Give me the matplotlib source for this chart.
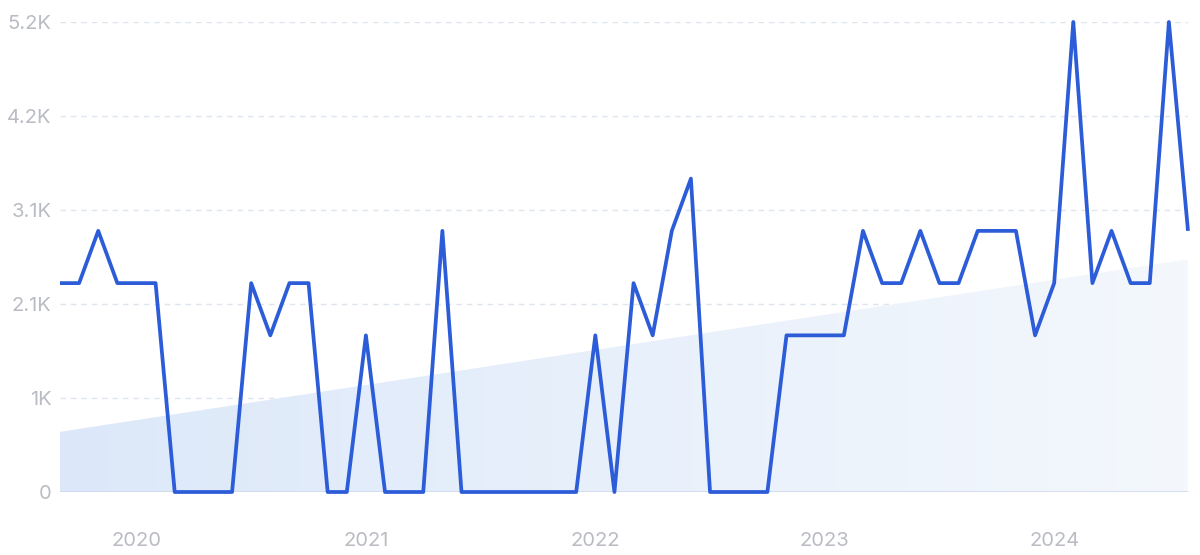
import matplotlib.pyplot as plt
import numpy as np
import pandas as pd
from matplotlib.colors import LinearSegmentedColormap

# monthly values, Sep 2019 .. Aug 2024
months = pd.date_range("2019-09-01", periods=60, freq="MS")
values = [
    2311, 2311, 2889, 2311, 2311, 2311, 0, 0, 0, 0,
    2311, 1733, 2311, 2311, 0, 0, 1733, 0, 0, 0,
    2889, 0, 0, 0, 0, 0, 0, 0, 1733, 0,
    2311, 1733, 2889, 3467, 0, 0, 0, 0, 1733, 1733,
    1733, 1733, 2889, 2311, 2311, 2889, 2311, 2311, 2889, 2889,
    2889, 1733, 2311, 5200, 2311, 2889, 2311, 2311, 5200, 2889,
]
# trend line (start / end)
trend_ends = [666, 2575]

y_ticks = [0, 1040, 2080, 3120, 4160, 5200]
y_labels = ["0", "1K", "2.1K", "3.1K", "4.2K", "5.2K"]
year_labels = ["2020", "2021", "2022", "2023", "2024"]

plt.rcParams['font.family'] = ['Inter', 'DejaVu Sans']

fig = plt.figure(figsize=(12, 5.55), dpi=100)
ax = fig.add_axes([0.05, 0.1135, 0.94, 0.8469])

x = np.arange(len(values))
x_end = len(values) - 1
ax.set_xlim(0, x_end)
ax.set_ylim(0, 5200)

# gradient-filled trend area
trend_x = [0, x_end]
poly = ax.fill_between(trend_x, trend_ends, 0, color="none", lw=0)
cmap = LinearSegmentedColormap.from_list("trend", ["#dce8f9", "#f4f8fd"])
grad = np.linspace(0, 1, 256).reshape(1, -1)
img = ax.imshow(grad, cmap=cmap, aspect="auto", extent=[0, x_end, 0, 5200],
                origin="lower", zorder=1)
img.set_clip_path(poly.get_paths()[0], transform=ax.transData)

# grid
for t in y_ticks[1:]:
    ax.axhline(t, color="#dfe5ee", lw=1, dashes=(4, 3.5), zorder=0.5)
ax.axhline(0, color="#cdd9ef", lw=1.2, zorder=2)

ax.plot(x, values, color="#2c5cd8", lw=2.7, solid_joinstyle="round",
        solid_capstyle="butt", zorder=3, clip_on=False)

for s in ax.spines.values():
    s.set_visible(False)

ax.set_yticks(y_ticks)
ax.set_yticklabels(y_labels)
year_pos = [list(months).index(pd.Timestamp(f"{y}-01-01")) for y in year_labels]
ax.set_xticks(year_pos)
ax.set_xticklabels(year_labels)
ax.tick_params(axis="y", length=0, pad=6, labelsize=14.5, labelcolor="#b9bcc3")
ax.tick_params(axis="x", length=0, pad=29, labelsize=14.5, labelcolor="#b9bcc3")

fig.savefig("out.png", dpi=100, facecolor="white")
